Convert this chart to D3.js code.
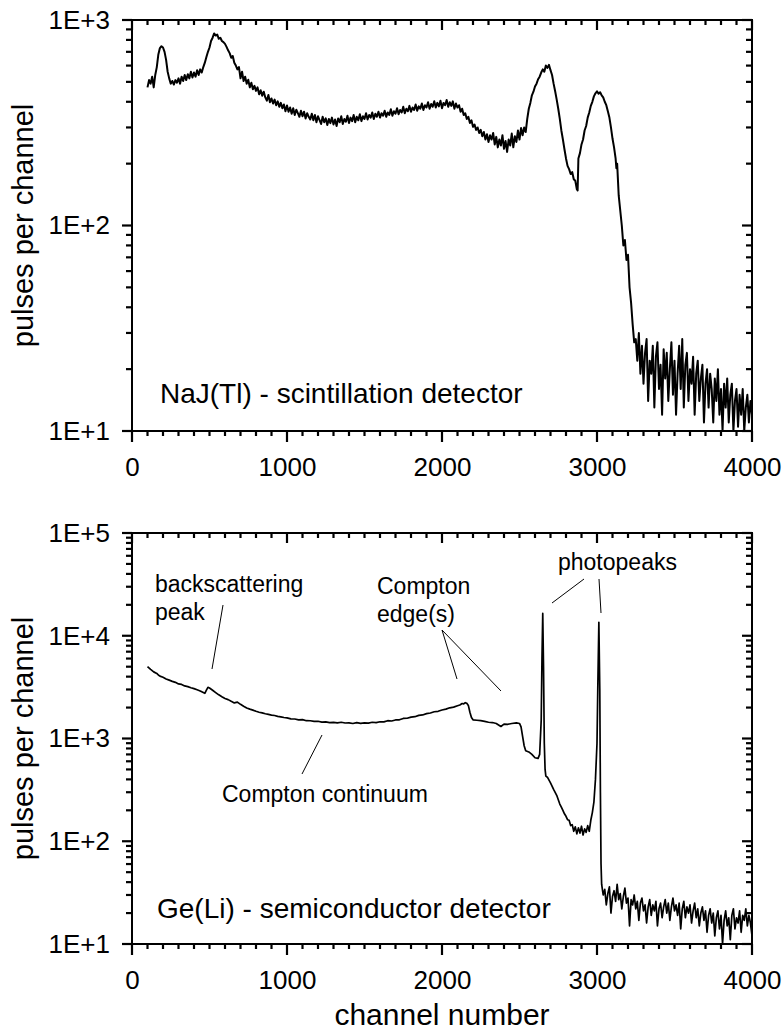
<!DOCTYPE html>
<html>
<head>
<meta charset="utf-8">
<script src="https://cdn.jsdelivr.net/npm/d3@7"></script>
<style>
  body { margin: 0; background: #fff; }
  text { font-family: "Liberation Sans", Arial, sans-serif; fill: #000; }
</style>
</head>
<body>
<svg id="chart" width="783" height="1030"></svg>
<script>
// NaJ(Tl) spectrum: [channel, pulses]
var naiSpectrum = [
  [100,470],[110,510],[120,490],[130,530],[140,470],[150,540],[160,590],[170,680],[180,730],[190,745],
  [200,735],[210,700],[220,640],[230,560],[240,520],[250,490],[260,505],[270,485],[280,510],[290,495],
  [300,520],[310,490],[320,530],[330,505],[340,540],[350,510],[360,545],[370,520],[380,560],[390,525],
  [400,555],[410,530],[420,570],[430,540],[440,575],[450,555],[460,590],[470,620],[480,660],[490,700],
  [500,735],[510,790],[520,820],[530,860],[540,840],[550,850],[560,810],[570,820],[580,790],[590,780],
  [600,765],[610,740],[620,712],[630,690],[640,655],[650,668],[660,620],[670,600],[680,575],[690,590],
  [700,520],[710,560],[720,505],[730,530],[740,490],[750,512],[760,470],[770,495],[780,460],[790,478],
  [800,452],[810,470],[820,435],[830,455],[840,428],[850,448],[860,420],[870,405],[880,432],[890,398],
  [900,415],[910,392],[920,410],[930,385],[940,402],[950,378],[960,395],[970,372],[980,388],[990,360],
  [1000,384],[1010,358],[1020,375],[1030,350],[1040,372],[1050,345],[1060,366],[1070,352],[1080,338],[1090,362],
  [1100,340],[1110,358],[1120,332],[1130,352],[1140,338],[1150,328],[1160,350],[1170,325],[1180,345],[1190,318],
  [1200,340],[1210,326],[1220,312],[1230,338],[1240,318],[1250,332],[1260,308],[1270,330],[1280,315],[1290,335],
  [1300,310],[1310,328],[1320,305],[1330,332],[1340,318],[1350,340],[1360,312],[1370,330],[1380,320],[1390,342],
  [1400,315],[1410,335],[1420,322],[1430,345],[1440,318],[1450,338],[1460,325],[1470,348],[1480,322],[1490,340],
  [1500,330],[1510,352],[1520,328],[1530,345],[1540,335],[1550,355],[1560,330],[1570,350],[1580,338],[1590,358],
  [1600,335],[1610,352],[1620,342],[1630,362],[1640,338],[1650,355],[1660,345],[1670,368],[1680,342],[1690,360],
  [1700,350],[1710,372],[1720,348],[1730,365],[1740,355],[1750,378],[1760,352],[1770,370],[1780,360],[1790,382],
  [1800,358],[1810,375],[1820,365],[1830,388],[1840,362],[1850,380],[1860,370],[1870,392],[1880,365],[1890,385],
  [1900,375],[1910,398],[1920,370],[1930,390],[1940,378],[1950,402],[1960,375],[1970,395],[1980,380],[1990,405],
  [2000,372],[2010,395],[2020,385],[2030,408],[2040,378],[2050,398],[2060,382],[2070,402],[2080,370],[2090,392],
  [2100,375],[2110,385],[2120,358],[2130,370],[2140,345],[2150,352],[2160,330],[2170,338],[2180,315],[2190,325],
  [2200,302],[2210,310],[2220,292],[2230,300],[2240,282],[2250,292],[2260,272],[2270,285],[2280,262],[2290,278],
  [2300,255],[2310,275],[2320,262],[2330,282],[2340,248],[2350,270],[2360,240],[2370,262],[2380,245],[2390,275],
  [2400,236],[2410,258],[2420,228],[2430,262],[2440,245],[2450,280],[2460,240],[2470,272],[2480,255],[2490,290],
  [2500,262],[2510,298],[2520,275],[2530,300],[2540,285],[2550,330],[2560,370],[2570,395],[2580,430],[2590,448],
  [2600,475],[2610,490],[2620,515],[2630,530],[2640,555],[2650,575],[2660,560],[2670,600],[2680,585],[2690,605],
  [2700,570],[2710,540],[2720,490],[2730,450],[2740,410],[2750,370],[2760,330],[2770,290],[2780,262],[2790,235],
  [2800,212],[2810,195],[2820,188],[2830,178],[2840,182],[2850,168],[2860,165],[2870,150],[2875,148],[2880,212],
  [2890,225],[2900,248],[2910,262],[2920,290],[2930,305],[2940,335],[2950,355],[2960,382],[2970,400],[2980,425],
  [2990,440],[3000,450],[3010,438],[3020,445],[3030,430],[3040,420],[3050,400],[3060,385],[3070,360],[3080,335],
  [3090,300],[3100,265],[3110,240],[3120,212],[3125,190],[3130,200],[3140,140],[3160,100],[3170,80],[3180,85],
  [3190,68],[3200,72],[3210,50],[3220,42],[3230,33],[3240,27],[3250,28],[3260,22],[3270,30],[3280,19],
  [3290,26],[3300,17],[3310,24],[3320,28],[3330,14],[3340,22],[3350,19],[3360,26],[3370,13],[3380,23],
  [3390,27],[3400,16],[3410,21],[3420,12],[3430,25],[3440,18],[3450,24],[3460,14],[3470,20],[3480,27],
  [3490,15],[3500,22],[3510,12],[3520,19],[3530,26],[3540,16],[3550,28],[3560,13],[3570,21],[3580,24],
  [3590,14],[3600,20],[3610,17],[3620,23],[3630,12],[3640,19],[3650,22],[3660,14],[3670,18],[3680,21],
  [3690,11],[3700,17],[3710,20],[3720,13],[3730,19],[3740,16],[3750,11],[3760,18],[3770,14],[3780,20],
  [3790,12],[3800,16],[3810,10],[3820,17],[3830,13],[3840,18],[3850,11],[3860,15],[3870,17],[3880,10],
  [3890,14],[3900,16],[3910,10.5],[3920,15],[3930,12],[3940,16],[3950,10],[3960,13],[3970,15],[3980,11],
  [3990,14],[4000,12]
];

// Ge(Li) spectrum: [channel, pulses]
var geSpectrum = [
  [100,5000],[120,4700],[140,4450],[160,4300],[170,4150],[180,4050],[200,3950],[220,3800],[240,3700],[260,3600],
  [280,3520],[300,3400],[320,3360],[340,3250],[360,3200],[380,3120],[400,3060],[420,2980],[440,2900],[460,2800],
  [470,2750],[480,2950],[490,3150],[500,3100],[520,2950],[540,2800],[560,2660],[580,2550],[600,2450],[620,2390],
  [640,2300],[660,2220],[680,2260],[700,2150],[720,2060],[740,1980],[760,1930],[780,1890],[800,1840],[820,1800],
  [840,1775],[860,1740],[880,1715],[900,1690],[920,1675],[940,1640],[960,1625],[980,1600],[1000,1585],[1025,1555],
  [1050,1548],[1075,1520],[1100,1525],[1125,1490],[1150,1488],[1175,1470],[1200,1472],[1225,1445],[1250,1450],[1275,1428],
  [1300,1438],[1325,1418],[1350,1440],[1375,1415],[1400,1420],[1425,1400],[1450,1428],[1475,1405],[1500,1420],[1525,1412],
  [1550,1440],[1575,1428],[1600,1455],[1625,1450],[1650,1490],[1675,1480],[1700,1515],[1725,1520],[1750,1568],[1775,1575],
  [1800,1615],[1825,1630],[1850,1680],[1875,1695],[1900,1745],[1925,1770],[1950,1820],[1975,1840],[2000,1895],[2025,1930],
  [2050,1990],[2075,2020],[2100,2085],[2115,2120],[2130,2190],[2140,2170],[2150,2230],[2160,2200],[2170,2100],[2180,1800],
  [2190,1600],[2200,1520],[2225,1505],[2250,1490],[2275,1470],[2300,1440],[2325,1430],[2350,1400],[2380,1310],[2400,1380],
  [2425,1375],[2450,1400],[2480,1420],[2500,1400],[2510,1300],[2520,1050],[2530,850],[2540,760],[2560,740],[2580,700],
  [2600,650],[2620,640],[2630,700],[2640,1500],[2645,6000],[2650,16500],[2655,5000],[2660,900],[2665,500],[2670,430],
  [2680,420],[2700,370],[2720,320],[2740,280],[2760,230],[2770,215],[2780,200],[2790,185],[2800,175],[2810,162],
  [2820,160],[2830,142],[2840,145],[2850,125],[2860,138],[2870,118],[2880,135],[2890,120],[2900,140],[2910,115],
  [2920,132],[2930,122],[2940,142],[2950,125],[2960,160],[2970,190],[2980,240],[2990,400],[3000,900],[3005,3000],
  [3012,13500],[3018,3000],[3022,300],[3026,60],[3030,38],[3040,30],[3050,34],[3060,24],[3070,31],[3080,36],
  [3090,20],[3100,29],[3110,33],[3120,26],[3130,38],[3140,27],[3150,31],[3160,22],[3170,29],[3180,35],
  [3190,25],[3200,28],[3210,15],[3220,27],[3230,24],[3240,30],[3250,22],[3260,26],[3270,17],[3280,25],
  [3290,28],[3300,21],[3310,24],[3320,16],[3330,23],[3340,27],[3350,19],[3360,24],[3370,21],[3380,26],
  [3390,15],[3400,22],[3410,25],[3420,18],[3430,23],[3440,27],[3450,20],[3460,25],[3470,17],[3480,23],
  [3490,28],[3500,21],[3510,24],[3520,19],[3530,25],[3540,14],[3550,22],[3560,26],[3570,18],[3580,23],
  [3590,20],[3600,24],[3610,16],[3620,21],[3630,25],[3640,18],[3650,22],[3660,15],[3670,20],[3680,23],
  [3690,17],[3700,21],[3710,13],[3720,19],[3730,22],[3740,16],[3750,20],[3760,12],[3770,18],[3780,21],
  [3790,14],[3800,19],[3810,10],[3820,17],[3830,21],[3840,15],[3850,18],[3860,11],[3870,19],[3880,22],
  [3890,14],[3900,18],[3910,16],[3920,21],[3930,13],[3940,19],[3950,17],[3960,22],[3970,15],[3980,19],
  [3990,16],[4000,12]
];

var xTicks = [0, 1000, 2000, 3000, 4000];
var naiDecades = [10, 100, 1000];
var geDecades = [10, 100, 1000, 10000, 100000];

var svg = d3.select("#chart");
var left = 132, right = 752;

var x = d3.scaleLinear().domain([0, 4000]).range([left, right]);

// tick marks as line elements in page coordinates
function vTicks(xs, y0, len) {
  svg.selectAll(null).data(xs).enter().append("line")
    .attr("x1", function(d) { return d; })
    .attr("x2", function(d) { return d; })
    .attr("y1", y0).attr("y2", y0 + len)
    .attr("stroke", "#000").attr("stroke-width", 2.2);
}
function hTicks(ys, x0, len) {
  svg.selectAll(null).data(ys).enter().append("line")
    .attr("y1", function(d) { return d; })
    .attr("y2", function(d) { return d; })
    .attr("x1", x0).attr("x2", x0 + len)
    .attr("stroke", "#000").attr("stroke-width", 2.2);
}

var tickJobs = [];

function drawPanel(top, bottom, decades, data, lineWidth) {
  var y = d3.scaleLog().domain([decades[0], decades[decades.length - 1]]).range([bottom, top]);

  var minorY = y.ticks().filter(function(d) { return decades.indexOf(d) < 0; });
  var minorX = x.ticks(40).filter(function(d) { return xTicks.indexOf(d) < 0; });

  svg.append("rect").attr("x", left).attr("y", top)
    .attr("width", right - left).attr("height", bottom - top)
    .attr("fill", "none").attr("stroke", "#000").attr("stroke-width", 2);

  var line = d3.line()
    .x(function(d) { return x(d[0]); })
    .y(function(d) { return y(d[1]); });

  svg.append("path").datum(data)
    .attr("d", line)
    .attr("fill", "none")
    .attr("stroke", "#000")
    .attr("stroke-width", lineWidth)
    .attr("stroke-linejoin", "round");

  var xa = svg.append("g").attr("transform", "translate(0," + bottom + ")")
    .call(d3.axisBottom(x).tickValues(xTicks).tickSize(0).tickPadding(27).tickFormat(d3.format("d")));
  var ya = svg.append("g").attr("transform", "translate(" + left + ",0)")
    .call(d3.axisLeft(y).tickValues(decades).tickSize(0).tickPadding(22)
      .tickFormat(function(d) { return "1E+" + Math.round(Math.log10(d)); }));
  [xa, ya].forEach(function(a) {
    a.select(".domain").remove();
    a.selectAll("line").remove();
    a.selectAll("text").style("font-size", "26px")
      .style("font-family", "'Liberation Sans', Arial, sans-serif");
  });

  svg.append("text")
    .attr("transform", "translate(33," + ((top + bottom) / 2) + ") rotate(-90)")
    .attr("text-anchor", "middle")
    .style("font-size", "29px")
    .text("pulses per channel");

  // ticks go on last, above everything else
  tickJobs.push(function() {
    var mx = minorX.map(x), Mx = xTicks.map(x);
    var my = minorY.map(y), My = decades.map(y);
    vTicks(mx, bottom, 5);
    vTicks(Mx, bottom, 11);
    vTicks(mx, top, 5);
    vTicks(Mx, top, 10);
    hTicks(my, left, -6);
    hTicks(My, left, -10);
    hTicks(my, right, -6);
    hTicks(My, right, -10);
  });
}

drawPanel(20, 431, naiDecades, naiSpectrum, 2);
drawPanel(533, 944, geDecades, geSpectrum, 1.7);

svg.append("text").attr("x", 160).attr("y", 403).style("font-size", "28px")
  .text("NaJ(Tl) - scintillation detector");
svg.append("text").attr("x", 157).attr("y", 918).style("font-size", "28px")
  .text("Ge(Li) - semiconductor detector");

function label(xp, yp, lines) {
  var t = svg.append("text").attr("x", xp).attr("y", yp).style("font-size", "23px");
  lines.forEach(function(s, i) {
    t.append("tspan").attr("x", xp).attr("dy", i === 0 ? 0 : 28).text(s);
  });
}
label(155, 592, ["backscattering", "peak"]);
label(377, 594, ["Compton", "edge(s)"]);
label(558, 570, ["photopeaks"]);
label(222, 802, ["Compton continuum"]);

var leaders = [
  [223, 605, 212, 669],
  [442, 630, 457, 679],
  [442, 630, 501, 691],
  [584, 579, 552, 603],
  [599, 579, 601, 613],
  [302, 774, 322, 735]
];
svg.selectAll(".leader").data(leaders).enter().append("line")
  .attr("class", "leader")
  .attr("x1", function(d) { return d[0]; })
  .attr("y1", function(d) { return d[1]; })
  .attr("x2", function(d) { return d[2]; })
  .attr("y2", function(d) { return d[3]; })
  .attr("stroke", "#000").attr("stroke-width", 1);

svg.append("text").attr("x", 442).attr("y", 1025).attr("text-anchor", "middle")
  .style("font-size", "30px").text("channel number");

tickJobs.forEach(function(f) { f(); });
</script>
</body>
</html>
